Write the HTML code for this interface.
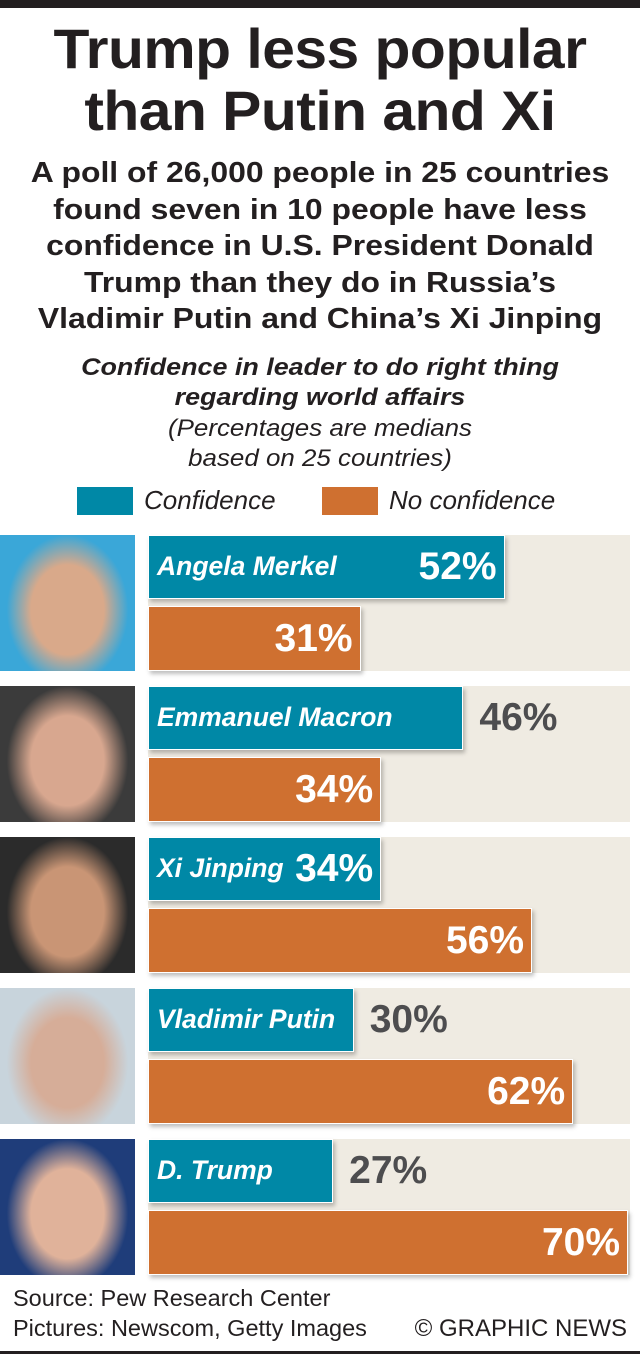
<!DOCTYPE html>
<html><head><meta charset="utf-8"><style>
body{margin:0;width:640px;height:1356px;background:#fff;font-family:"Liberation Sans",sans-serif;position:relative;overflow:hidden}
.t{position:absolute;left:0;width:640px;text-align:center;color:#231f20}
</style></head><body>
<div style="position:absolute;left:0;top:0;width:640px;height:8px;background:#231f20"></div>
<div class="t" style="top:18px;font-size:56px;font-weight:bold;line-height:62px;letter-spacing:-0.5px;transform:scaleX(1.05)">Trump less popular<br>than Putin and Xi</div>
<div class="t" style="top:155px;font-size:29px;font-weight:bold;line-height:36.5px;transform:scaleX(1.1)">A poll of 26,000 people in 25 countries<br>found seven in 10 people have less<br>confidence in U.S. President Donald<br>Trump than they do in Russia’s<br>Vladimir Putin and China’s Xi Jinping</div>
<div class="t" style="top:353px;font-size:24px;font-weight:bold;font-style:italic;line-height:30px;transform:scaleX(1.12)">Confidence in leader to do right thing<br>regarding world affairs</div>
<div class="t" style="top:414px;font-size:24px;font-style:italic;line-height:30px;transform:scaleX(1.08)">(Percentages are medians<br>based on 25 countries)</div>
<div style="position:absolute;left:77px;top:487px;width:56px;height:28px;background:#0088a6"></div>
<div style="position:absolute;left:144px;top:485px;font-size:26px;font-style:italic;color:#231f20">Confidence</div>
<div style="position:absolute;left:322px;top:487px;width:56px;height:28px;background:#cf7030"></div>
<div style="position:absolute;left:389px;top:485px;font-size:26px;font-style:italic;color:#231f20">No confidence</div>
<div id="chart"></div>
<div style="position:absolute;left:13px;top:1285px;font-size:23.5px;color:#231f20">Source: Pew Research Center</div>
<div style="position:absolute;left:13px;top:1315px;font-size:23.5px;color:#231f20">Pictures: Newscom, Getty Images</div>
<div style="position:absolute;right:13px;top:1315px;font-size:24px;color:#231f20">© GRAPHIC NEWS</div>
<div style="position:absolute;left:0;top:1351px;width:640px;height:3px;background:#231f20"></div>
<script>
const leaders=["Angela Merkel","Emmanuel Macron","Xi Jinping","Vladimir Putin","D. Trump"];
const confidence=[52,46,34,30,27];
const noConfidence=[31,34,56,62,70];
const photoColors=[["#3aa7d8","#d9a98a"],["#3b3b3b","#d8a78f"],["#2b2b2b","#c99575"],["#c8d4dc","#d6ad98"],["#1f3d7a","#e0b29a"]];
const X0=148,PX=480/70,TOP=535,PITCH=151;
function x(v){return v*PX;}
const chart=document.getElementById('chart');
function mk(css){const d=document.createElement('div');d.style.cssText='position:absolute;white-space:nowrap;'+css;chart.appendChild(d);return d;}
leaders.forEach((n,i)=>{
  const y=TOP+i*PITCH;
  const ph=mk(`left:0;top:${y}px;width:135px;height:136px;background:radial-gradient(ellipse 45% 55% at 50% 55%,${photoColors[i][1]} 60%,${photoColors[i][0]} 100%)`);
  
  
  const bg=mk(`left:${X0}px;top:${y}px;width:482px;height:136px;background:#efebe2`);
  
  
  const cw=x(confidence[i]);
  const c=mk(`left:${X0}px;top:${y}px;width:${cw}px;height:64px;background:#0088a6;box-shadow:2px 3px 4px rgba(0,0,0,.25);border:1px solid #fff;box-sizing:border-box`);
  
  
  const lab=mk(`left:${X0+9}px;top:${y+16}px;font-size:26.5px;font-weight:bold;font-style:italic;color:#fff`);
  lab.textContent=n;
  
  
  const cv=mk(`top:${y+10}px;font-size:39px;font-weight:bold;color:#fff`);
  cv.textContent=confidence[i]+'%';
  
  
  const inside=lab.offsetWidth+cv.offsetWidth+22<=cw;
  if(inside){cv.style.right=(640-(X0+cw)+8)+'px';}
  else{cv.style.left=(X0+cw+16)+'px';cv.style.color='#4d4d4f';}
  const nw=x(noConfidence[i]);
  const o=mk(`left:${X0}px;top:${y+71}px;width:${nw}px;height:65px;background:#cf7030;box-shadow:2px 3px 4px rgba(0,0,0,.25);border:1px solid #fff;box-sizing:border-box`);
  
  
  const ov=mk(`right:${640-(X0+nw)+8}px;top:${y+82}px;font-size:39px;font-weight:bold;color:#fff`);
  ov.textContent=noConfidence[i]+'%';
  
  
});
</script>
</body></html>
